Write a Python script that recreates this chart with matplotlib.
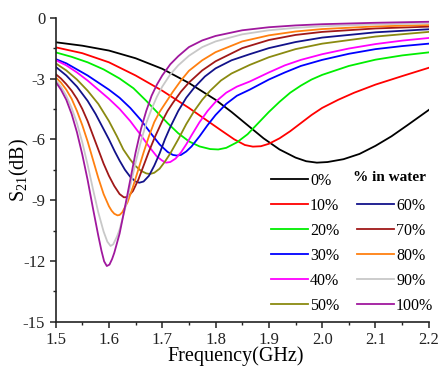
import matplotlib
matplotlib.use('Agg')
import matplotlib.pyplot as plt
from matplotlib.lines import Line2D
from matplotlib.ticker import MultipleLocator

plt.rcParams['font.family'] = ['Liberation Serif', 'DejaVu Serif']
plt.rcParams['mathtext.fontset'] = 'custom'
plt.rcParams['mathtext.rm'] = 'Liberation Serif'

labels = ['0%', '10%', '20%', '30%', '40%', '50%', '60%', '70%', '80%', '90%', '100%']
colors = ['#000000', '#FF0000', '#00EE00', '#0000FF', '#FF00FF', '#8A8A10',
          '#12128A', '#A01818', '#FF8010', '#C8C8C8', '#A0189E']

# values: (frequency GHz, S21 dB)
f_0 = [1.50, 1.55, 1.60, 1.65, 1.70, 1.75, 1.80, 1.83, 1.86, 1.89, 1.92, 1.95, 1.97, 1.99, 2.01, 2.04, 2.07, 2.10, 2.13, 2.16, 2.20]
s_0 = [-1.21, -1.38, -1.62, -2.00, -2.52, -3.22, -4.05, -4.65, -5.30, -5.95, -6.50, -6.90, -7.08, -7.15, -7.12, -6.98, -6.72, -6.32, -5.85, -5.30, -4.55]

f_10 = [1.50, 1.55, 1.60, 1.65, 1.70, 1.75, 1.78, 1.81, 1.835, 1.855, 1.87, 1.885, 1.90, 1.92, 1.94, 1.96, 1.98, 2.00, 2.03, 2.06, 2.10, 2.15, 2.20]
s_10 = [-1.46, -1.75, -2.20, -2.85, -3.60, -4.45, -5.00, -5.55, -6.00, -6.28, -6.36, -6.34, -6.22, -5.95, -5.60, -5.20, -4.80, -4.45, -4.05, -3.70, -3.30, -2.88, -2.47]

f_20 = [1.50, 1.53, 1.56, 1.59, 1.62, 1.646, 1.67, 1.69, 1.71, 1.73, 1.75, 1.77, 1.79, 1.805, 1.82, 1.84, 1.86, 1.88, 1.90, 1.92, 1.94, 1.96, 1.98, 2.00, 2.05, 2.10, 2.15, 2.20]
s_20 = [-1.71, -1.93, -2.20, -2.55, -3.00, -3.48, -4.10, -4.65, -5.20, -5.70, -6.10, -6.35, -6.48, -6.50, -6.42, -6.15, -5.75, -5.20, -4.65, -4.15, -3.70, -3.35, -3.05, -2.82, -2.38, -2.07, -1.86, -1.71]

f_30 = [1.50, 1.52, 1.54, 1.56, 1.58, 1.60, 1.62, 1.64, 1.66, 1.68, 1.695, 1.71, 1.72, 1.727, 1.735, 1.745, 1.755, 1.77, 1.785, 1.80, 1.82, 1.84, 1.864, 1.90, 1.93, 1.96, 2.00, 2.05, 2.10, 2.15, 2.20]
s_30 = [-2.04, -2.25, -2.55, -2.85, -3.20, -3.55, -3.95, -4.45, -5.05, -5.75, -6.25, -6.62, -6.77, -6.80, -6.77, -6.60, -6.35, -5.85, -5.30, -4.80, -4.25, -3.85, -3.55, -3.05, -2.70, -2.38, -2.08, -1.78, -1.55, -1.40, -1.28]

f_40 = [1.50, 1.52, 1.54, 1.56, 1.58, 1.60, 1.62, 1.64, 1.66, 1.675, 1.69, 1.70, 1.707, 1.715, 1.725, 1.735, 1.745, 1.755, 1.77, 1.785, 1.80, 1.82, 1.84, 1.864, 1.90, 1.93, 1.96, 2.00, 2.05, 2.10, 2.15, 2.20]
s_40 = [-2.09, -2.35, -2.70, -3.10, -3.55, -4.00, -4.50, -5.10, -5.80, -6.35, -6.85, -7.05, -7.15, -7.12, -6.95, -6.65, -6.25, -5.80, -5.15, -4.60, -4.15, -3.70, -3.40, -3.15, -2.70, -2.35, -2.08, -1.80, -1.52, -1.30, -1.13, -1.00]

f_50 = [1.50, 1.52, 1.54, 1.56, 1.58, 1.60, 1.615, 1.627, 1.64, 1.65, 1.66, 1.67, 1.677, 1.685, 1.695, 1.705, 1.715, 1.73, 1.745, 1.76, 1.775, 1.79, 1.81, 1.83, 1.864, 1.90, 1.95, 2.00, 2.10, 2.20]
s_50 = [-2.25, -2.60, -3.05, -3.60, -4.25, -5.10, -5.85, -6.50, -7.00, -7.32, -7.55, -7.68, -7.71, -7.65, -7.45, -7.10, -6.70, -6.00, -5.25, -4.60, -4.05, -3.60, -3.10, -2.75, -2.33, -1.95, -1.55, -1.28, -0.93, -0.70]

f_60 = [1.50, 1.52, 1.54, 1.56, 1.575, 1.59, 1.60, 1.611, 1.62, 1.63, 1.64, 1.65, 1.657, 1.665, 1.675, 1.685, 1.695, 1.705, 1.715, 1.73, 1.745, 1.76, 1.78, 1.80, 1.83, 1.864, 1.90, 1.95, 2.00, 2.10, 2.20]
s_60 = [-2.42, -2.85, -3.40, -4.10, -4.75, -5.50, -6.00, -6.60, -7.05, -7.50, -7.85, -8.08, -8.14, -8.08, -7.80, -7.30, -6.70, -6.00, -5.40, -4.60, -3.95, -3.45, -2.90, -2.50, -2.10, -1.80, -1.50, -1.20, -0.98, -0.72, -0.57]

f_70 = [1.50, 1.51, 1.52, 1.53, 1.54, 1.55, 1.56, 1.57, 1.58, 1.59, 1.60, 1.61, 1.62, 1.628, 1.635, 1.645, 1.655, 1.665, 1.675, 1.686, 1.70, 1.71, 1.72, 1.735, 1.75, 1.775, 1.80, 1.85, 1.90, 1.95, 2.00, 2.10, 2.20]
s_70 = [-2.78, -3.00, -3.28, -3.60, -4.00, -4.50, -5.10, -5.80, -6.50, -7.20, -7.80, -8.30, -8.70, -8.86, -8.85, -8.55, -8.00, -7.30, -6.60, -5.90, -5.10, -4.60, -4.20, -3.65, -3.20, -2.60, -2.15, -1.50, -1.10, -0.85, -0.70, -0.53, -0.44]

f_80 = [1.50, 1.51, 1.52, 1.53, 1.54, 1.55, 1.56, 1.57, 1.58, 1.59, 1.60, 1.605, 1.61, 1.616, 1.62, 1.625, 1.635, 1.645, 1.655, 1.665, 1.675, 1.685, 1.695, 1.705, 1.72, 1.735, 1.75, 1.775, 1.80, 1.85, 1.90, 1.95, 2.00, 2.10, 2.20]
s_80 = [-2.94, -3.20, -3.55, -4.00, -4.60, -5.30, -6.10, -7.00, -7.90, -8.70, -9.30, -9.52, -9.67, -9.75, -9.73, -9.60, -9.10, -8.35, -7.50, -6.65, -5.85, -5.15, -4.65, -4.25, -3.65, -3.10, -2.62, -2.10, -1.70, -1.17, -0.87, -0.68, -0.56, -0.43, -0.36]

f_90 = [1.50, 1.51, 1.52, 1.53, 1.54, 1.55, 1.56, 1.57, 1.58, 1.59, 1.597, 1.603, 1.608, 1.615, 1.62, 1.63, 1.64, 1.65, 1.66, 1.67, 1.68, 1.69, 1.70, 1.715, 1.73, 1.75, 1.775, 1.80, 1.85, 1.90, 1.95, 2.00, 2.10, 2.20]
s_90 = [-3.07, -3.40, -3.85, -4.45, -5.20, -6.15, -7.25, -8.45, -9.60, -10.55, -11.05, -11.26, -11.18, -10.80, -10.45, -9.45, -8.30, -7.15, -6.10, -5.20, -4.50, -3.90, -3.40, -2.80, -2.35, -1.88, -1.45, -1.17, -0.82, -0.62, -0.50, -0.42, -0.33, -0.28]

f_100 = [1.50, 1.51, 1.52, 1.53, 1.54, 1.55, 1.56, 1.57, 1.58, 1.586, 1.591, 1.596, 1.601, 1.606, 1.61, 1.62, 1.63, 1.64, 1.65, 1.66, 1.67, 1.68, 1.69, 1.70, 1.715, 1.73, 1.75, 1.775, 1.80, 1.85, 1.90, 1.95, 2.00, 2.10, 2.20]
s_100 = [-3.16, -3.55, -4.05, -4.75, -5.65, -6.75, -8.00, -9.40, -10.75, -11.50, -12.02, -12.25, -12.18, -11.90, -11.60, -10.65, -9.35, -8.00, -6.65, -5.50, -4.60, -3.85, -3.30, -2.85, -2.30, -1.90, -1.45, -1.12, -0.90, -0.62, -0.47, -0.38, -0.32, -0.25, -0.20]

freqs = [f_0, f_10, f_20, f_30, f_40, f_50, f_60, f_70, f_80, f_90, f_100]
s21 = [s_0, s_10, s_20, s_30, s_40, s_50, s_60, s_70, s_80, s_90, s_100]

fig = plt.figure(figsize=(4.38, 3.69), dpi=100)
ax = fig.add_axes([0.127, 0.128, 0.852, 0.824])

handles = []
for f, s, c, lab in zip(freqs, s21, colors, labels):
    h, = ax.plot(f, s, color=c, lw=1.3, label=lab, solid_joinstyle='round')
    handles.append(h)

ax.set_xlim(1.5, 2.2)
ax.set_ylim(-15, 0)
ax.xaxis.set_major_locator(MultipleLocator(0.1))
ax.xaxis.set_minor_locator(MultipleLocator(0.05))
ax.yaxis.set_major_locator(MultipleLocator(3))
ax.yaxis.set_minor_locator(MultipleLocator(1.5))
ax.spines['top'].set_visible(False)
ax.spines['right'].set_visible(False)
for sp in ('left', 'bottom'):
    ax.spines[sp].set_linewidth(1.2)
    ax.spines[sp].set_color('#222222')
ax.tick_params(which='major', direction='out', length=4, width=1.1, labelsize=12, colors='#222222')
ax.tick_params(which='minor', direction='out', length=2.5, width=1.0, colors='#222222')
ax.set_xticklabels(['%.1f' % v for v in ax.get_xticks()])
ax.set_yticklabels(['%d' % v for v in ax.get_yticks()])
ax.set_xlabel('Frequency(GHz)', fontsize=14.5)
ax.set_ylabel('S$_{21}$(dB)', fontsize=14.5)
ax.xaxis.set_label_coords(0.482, -0.082)
ax.yaxis.set_label_coords(-0.066, 0.5)

# legend: left column 0-50 %, right column header + 60-100 %
blank = Line2D([], [], color='none')
leg_handles = handles[:6] + [blank] + handles[6:]
leg_labels = labels[:6] + [''] + labels[6:]
ax.legend(leg_handles, leg_labels, ncol=2, frameon=False, fontsize=11.5,
          handlelength=2.3, handletextpad=0.15, labelspacing=0.56, columnspacing=1.1,
          borderpad=0, loc='upper left', bbox_to_anchor=(263 / 438, 1 - 165 / 369),
          bbox_transform=fig.transFigure)
fig.text(353 / 438, 1 - 178 / 369, '% in water', fontsize=11, fontweight='bold',
         va='center', ha='left')

fig.savefig('out.png', dpi=100)
